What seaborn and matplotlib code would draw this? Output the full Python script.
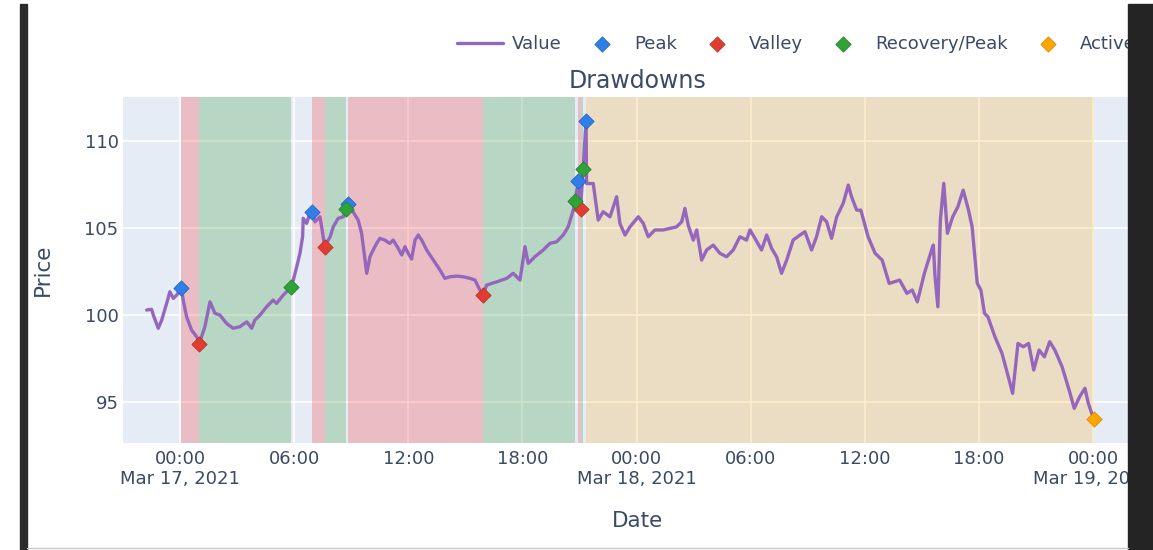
import numpy as np
import pandas as pd
import matplotlib
matplotlib.use("Agg")
import matplotlib.pyplot as plt
import seaborn as sns
from matplotlib.patches import Rectangle
from matplotlib.lines import Line2D

# ---------------- data (hours after 2021-03-17 00:00, price) ----------------
hours = [-1.76, -1.50, -1.41, -1.15, -0.97, -0.71, -0.54, -0.36, -0.18, 0.07, 0.16, 0.34, 0.60, 0.87, 1.01,
         1.30, 1.57, 1.83, 2.09, 2.44, 2.79, 3.14, 3.50, 3.76, 3.93, 4.20, 4.55, 4.89, 5.07, 5.42, 5.85,
         5.95, 6.13, 6.30, 6.44, 6.47, 6.65, 6.82, 6.91, 7.09, 7.35, 7.44, 7.60, 7.89, 8.05, 8.31, 8.58,
         8.74, 8.84, 9.10, 9.36, 9.54, 9.72, 9.81, 9.98, 10.15, 10.33, 10.50, 10.76, 11.02, 11.20, 11.47,
         11.65, 11.82, 11.99, 12.17, 12.35, 12.52, 12.70, 12.96, 13.31, 13.66, 13.92, 14.18, 14.54, 14.88,
         15.24, 15.50, 15.76, 15.94, 16.11, 16.64, 17.17, 17.51, 17.87, 18.13, 18.30, 18.65, 19.09, 19.44,
         19.79, 20.14, 20.40, 20.67, 20.76, 20.94, 21.05, 21.19, 21.34, 21.37, 21.46, 21.72, 21.98, 22.24,
         22.60, 22.95, 23.12, 23.39, 23.65, 24.09, 24.35, 24.61, 24.96, 25.40, 25.75, 26.10, 26.37, 26.54,
         26.71, 26.98, 27.16, 27.42, 27.68, 28.03, 28.38, 28.73, 29.08, 29.43, 29.78, 29.96, 30.22, 30.57,
         30.84, 31.10, 31.36, 31.62, 31.89, 32.23, 32.59, 32.85, 33.20, 33.46, 33.73, 33.99, 34.25, 34.52,
         34.86, 35.13, 35.30, 35.57, 35.79, 36.17, 36.54, 36.91, 37.28, 37.83, 38.21, 38.49, 38.76, 39.13,
         39.51, 39.60, 39.69, 39.84, 39.97, 40.15, 40.34, 40.62, 40.89, 41.17, 41.45, 41.64, 41.91, 42.10,
         42.29, 42.47, 42.84, 43.21, 43.59, 43.77, 44.05, 44.33, 44.61, 44.88, 45.16, 45.44, 45.72, 45.99,
         46.37, 46.74, 47.01, 47.29, 47.57, 47.75, 48.03]
price = [100.29, 100.33, 100.00, 99.24, 99.71, 100.67, 101.34, 100.96, 101.15, 101.55, 100.86, 99.90, 99.14,
         98.75, 98.36, 99.33, 100.76, 100.10, 100.00, 99.52, 99.24, 99.33, 99.61, 99.24, 99.71, 100.00,
         100.48, 100.86, 100.67, 101.15, 101.61, 102.01, 102.78, 103.55, 104.50, 105.56, 105.27, 105.84,
         105.95, 105.36, 105.65, 105.07, 103.94, 104.50, 105.07, 105.56, 105.65, 106.12, 106.38, 105.92,
         105.46, 104.70, 103.16, 102.40, 103.35, 103.74, 104.12, 104.41, 104.31, 104.12, 104.31, 103.83,
         103.45, 103.93, 103.55, 103.22, 104.31, 104.60, 104.31, 103.74, 103.16, 102.59, 102.11, 102.20,
         102.24, 102.20, 102.11, 102.01, 101.44, 101.18, 101.72, 101.91, 102.11, 102.40, 102.01, 103.93,
         102.97, 103.35, 103.74, 104.12, 104.21, 104.60, 105.07, 106.03, 106.55, 107.73, 106.12, 108.42,
         111.15, 107.56, 107.56, 107.56, 105.46, 105.94, 105.65, 106.80, 105.27, 104.60, 105.07, 105.65,
         105.27, 104.50, 104.89, 104.89, 104.98, 105.07, 105.36, 106.13, 105.17, 104.31, 104.89, 103.16,
         103.74, 104.02, 103.55, 103.35, 103.74, 104.50, 104.31, 104.89, 104.41, 103.74, 104.60, 103.83,
         103.35, 102.40, 103.16, 104.31, 104.60, 104.79, 103.74, 104.50, 105.65, 105.36, 104.41, 105.65,
         106.42, 107.47, 106.80, 106.03, 106.03, 104.50, 103.55, 103.16, 101.82, 102.01, 101.25, 101.44,
         100.76, 102.40, 103.74, 104.02, 102.20, 100.48, 105.46, 107.57, 104.70, 105.65, 106.22, 107.18,
         106.03, 105.07, 101.82, 101.44, 100.10, 99.90, 98.75, 97.80, 96.26, 95.50, 98.37, 98.18, 98.37,
         96.84, 97.99, 97.60, 98.47, 97.99, 97.03, 95.69, 94.64, 95.30, 95.79, 94.93, 94.02]

peak_hours = [0.07, 6.91, 8.84, 20.94, 21.34]
peak_price = [101.55, 105.95, 106.38, 107.73, 111.15]
valley_hours = [1.01, 7.60, 15.94, 21.05]
valley_price = [98.36, 103.94, 101.18, 106.12]
recovery_hours = [5.85, 8.74, 20.76, 21.19]
recovery_price = [101.61, 106.12, 106.55, 108.42]
active_hours = [48.03]
active_price = [94.02]

tick_hours = [0, 6, 12, 18, 24, 30, 36, 42, 48]
tick_labels = ["00:00\nMar 17, 2021", "06:00", "12:00", "18:00", "00:00\nMar 18, 2021",
               "06:00", "12:00", "18:00", "00:00\nMar 19, 2021"]
y_ticks = [95, 100, 105, 110]

assert len(hours) == len(price)

base = pd.Timestamp("2021-03-17")
def to_dt(h):
    return base + pd.to_timedelta(np.asarray(h, dtype=float), unit="h")

df = pd.DataFrame({"Date": to_dt(hours), "Price": price})

# ---------------- style ----------------
TXT = "#3a4a66"
sns.set_theme(style="darkgrid", rc={
    "axes.facecolor": "#E5ECF6",
    "grid.color": "white",
    "grid.linewidth": 1.2,
    "axes.edgecolor": "#E5ECF6",
    "text.color": TXT,
    "axes.labelcolor": TXT,
    "xtick.color": TXT,
    "ytick.color": TXT,
})
plt.rcParams["font.family"] = ["DejaVu Sans"]

W, H = 1153, 550
fig = plt.figure(figsize=(W / 100, H / 100), dpi=100)
left_px, right_px, top_px, bot_px = 122.7, 1153.0, 96.7, 443.3
ax = fig.add_axes([left_px / W, 1 - bot_px / H, (right_px - left_px) / W, (bot_px - top_px) / H])

# shaded drawdown periods
for p, v in zip(peak_hours[:4], valley_hours):
    ax.axvspan(to_dt([p])[0], to_dt([v])[0], color="red", alpha=0.2, lw=0, zorder=1)
for v, r in zip(valley_hours, recovery_hours):
    ax.axvspan(to_dt([v])[0], to_dt([r])[0], color="green", alpha=0.2, lw=0, zorder=1)
ax.axvspan(to_dt([peak_hours[-1]])[0], to_dt(active_hours)[0], color="orange", alpha=0.2, lw=0, zorder=1)

sns.lineplot(data=df, x="Date", y="Price", ax=ax, color="#9467bd", lw=2.4, sort=False,
             estimator=None, label="Value", zorder=3)

msize = 60
sns.scatterplot(x=to_dt(peak_hours), y=peak_price, ax=ax, marker="D", s=msize, color="#2f7fe8",
                edgecolor="#2563c4", linewidth=0.6, label="Peak", zorder=4)
sns.scatterplot(x=to_dt(valley_hours), y=valley_price, ax=ax, marker="D", s=msize, color="#e23c30",
                edgecolor="#b8322a", linewidth=0.6, label="Valley", zorder=4)
sns.scatterplot(x=to_dt(recovery_hours), y=recovery_price, ax=ax, marker="D", s=msize, color="#2fa336",
                edgecolor="#24812a", linewidth=0.6, label="Recovery/Peak", zorder=4)
sns.scatterplot(x=to_dt(active_hours), y=active_price, ax=ax, marker="D", s=msize, color="#ffa500",
                edgecolor="#d98c00", linewidth=0.6, label="Active", zorder=4)

ax.set_xlim(to_dt([-3.02])[0], to_dt([51.15])[0])
ax.set_ylim(92.63, 112.55)
ax.set_xticks(list(to_dt(tick_hours)))
ax.set_xticklabels(tick_labels, fontsize=13)
ax.set_yticks(y_ticks)
ax.set_yticklabels([str(t) for t in y_ticks], fontsize=13)
ax.tick_params(axis="both", length=0)
ax.tick_params(axis="x", pad=4.5)
ax.tick_params(axis="y", pad=3)
for s in ax.spines.values():
    s.set_visible(False)

ax.set_xlabel("Date", fontsize=15.5)
ax.set_ylabel("Price", fontsize=15.5)
ax.xaxis.set_label_coords(0.5, -0.195)
ax.yaxis.set_label_coords(-0.068, 0.5)
ax.set_title("Drawdowns", fontsize=17, color=TXT, pad=6)

ax.legend(loc="center left", bbox_to_anchor=(457 / W, 1 - 44 / H), bbox_transform=fig.transFigure,
          ncol=5, frameon=False, borderpad=0, borderaxespad=0, handlelength=2.55,
          handletextpad=0.5, columnspacing=0.95, fontsize=13)

# screenshot frame
fig.add_artist(Rectangle((20 / W, 0), 7 / W, (H - 4) / H, transform=fig.transFigure,
                         color="#2b2b2b", zorder=20))
fig.add_artist(Rectangle((1128 / W, 0), (W - 1128) / W, (H - 4) / H, transform=fig.transFigure,
                         color="#242424", zorder=20))
fig.add_artist(Line2D([27 / W, 1128 / W], [2 / H, 2 / H], transform=fig.transFigure,
                      color="#c8c8c8", lw=1, zorder=20))

fig.savefig("out.png", dpi=100)
